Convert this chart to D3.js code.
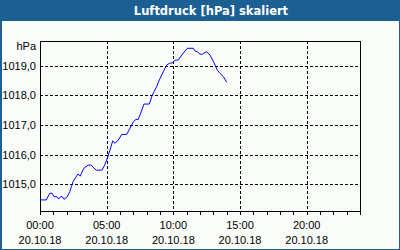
<!DOCTYPE html>
<html>
<head>
<meta charset="utf-8">
<script src="https://cdn.jsdelivr.net/npm/d3@7"></script>
<style>
  body { margin: 0; padding: 0; background: #fff; }
  svg { display: block; }
</style>
</head>
<body>
<div id="chart"></div>
<script>
const width = 400;
const height = 250;

const title = "Luftdruck [hPa] skaliert";
const unitLabel = "hPa";

// hours since 20.10.18 00:00
const hours = [0, 0.47, 0.73, 0.9, 1.05, 1.28, 1.4, 1.55, 1.67, 1.8, 2.05, 2.23, 2.35, 2.48, 2.72, 2.85,
  3.02, 3.28, 3.6, 3.85, 3.98, 4.22, 4.65, 4.85, 5.05, 5.25, 5.45, 5.63, 5.87, 6.13, 6.5, 6.75,
  7.0, 7.2, 7.37, 7.55, 7.8, 8.2, 8.38, 8.55, 8.75, 8.95, 9.25, 9.5, 9.7, 9.95, 10.13, 10.37,
  10.63, 10.88, 11.05, 11.5, 11.63, 11.8, 12.0, 12.17, 12.38, 12.5, 12.75, 12.95, 13.13, 13.3,
  13.5, 13.75, 14.0];
const pressure = [1014.46, 1014.46, 1014.68, 1014.69, 1014.57, 1014.57, 1014.49, 1014.57, 1014.57, 1014.48,
  1014.57, 1014.74, 1014.91, 1015.08, 1015.25, 1015.34, 1015.27, 1015.53, 1015.64, 1015.64, 1015.57,
  1015.47, 1015.47, 1015.64, 1015.87, 1016.15, 1016.46, 1016.38, 1016.49, 1016.68, 1016.68, 1016.89,
  1017.11, 1017.19, 1017.19, 1017.40, 1017.71, 1017.71, 1017.96, 1018.13, 1018.30, 1018.53, 1018.81,
  1019.03, 1019.09, 1019.11, 1019.20, 1019.20, 1019.37, 1019.51, 1019.60, 1019.60, 1019.51, 1019.48,
  1019.40, 1019.40, 1019.46, 1019.48, 1019.37, 1019.20, 1019.03, 1018.86, 1018.75, 1018.64, 1018.45];

const yTicks = [1015, 1016, 1017, 1018, 1019];
const xTicks = [0, 5, 10, 15, 20];
const xTimeLabels = ["00:00", "05:00", "10:00", "15:00", "20:00"];
const dateLabel = "20.10.18";

const data = hours.map((h, i) => ({ h, v: pressure[i] }));

const plot = { left: 40, right: 360, top: 41, bottom: 211 };

const x = d3.scaleLinear().domain([0, 24]).range([plot.left, plot.right]);
const y = d3.scaleLinear().domain([1014.085, 1019.847]).range([plot.bottom, plot.top]);

const svg = d3.select("#chart").append("svg")
  .attr("width", width)
  .attr("height", height);

// frame + title bar
svg.append("rect")
  .attr("width", width).attr("height", height)
  .attr("fill", "#1c5f93");
svg.append("rect")
  .attr("x", 2).attr("y", 21)
  .attr("width", width - 3).attr("height", height - 22)
  .attr("fill", "#fafcfa");

svg.append("text")
  .attr("x", 211).attr("y", 15)
  .attr("text-anchor", "middle")
  .attr("font-family", "DejaVu Sans, sans-serif")
  .attr("font-weight", "bold")
  .attr("font-size", "11.5px")
  .attr("fill", "#fff")
  .text(title);

// grid
const grid = svg.append("g")
  .attr("stroke", "#000")
  .attr("stroke-dasharray", "3,2")
  .attr("shape-rendering", "crispEdges");

grid.selectAll("line.h")
  .data(yTicks)
  .join("line")
  .attr("class", "h")
  .attr("x1", plot.left).attr("x2", plot.right)
  .attr("y1", d => Math.round(y(d)) + 0.5)
  .attr("y2", d => Math.round(y(d)) + 0.5);

grid.selectAll("line.v")
  .data(xTicks.slice(1))
  .join("line")
  .attr("class", "v")
  .attr("x1", d => Math.round(x(d)) + 0.5)
  .attr("x2", d => Math.round(x(d)) + 0.5)
  .attr("y1", plot.top).attr("y2", plot.bottom);

// plot frame
const frame = svg.append("g")
  .attr("stroke", "#000")
  .attr("shape-rendering", "crispEdges");
frame.append("line").attr("x1", plot.left).attr("x2", plot.right + 1).attr("y1", plot.top + 0.5).attr("y2", plot.top + 0.5);
frame.append("line").attr("x1", plot.right + 0.5).attr("x2", plot.right + 0.5).attr("y1", plot.top).attr("y2", plot.bottom);
frame.append("line").attr("x1", plot.left + 0.5).attr("x2", plot.left + 0.5).attr("y1", plot.top).attr("y2", plot.bottom + 1);
frame.append("line").attr("x1", plot.left).attr("x2", plot.right + 1).attr("y1", plot.bottom + 0.5).attr("y2", plot.bottom + 0.5);

// hourly ticks
frame.selectAll("line.tick")
  .data(d3.range(0, 25))
  .join("line")
  .attr("class", "tick")
  .attr("x1", d => Math.round(x(d)) + 0.5)
  .attr("x2", d => Math.round(x(d)) + 0.5)
  .attr("y1", plot.bottom)
  .attr("y2", plot.bottom + 4);

// labels
const labelFont = "Liberation Sans, Arial, sans-serif";

svg.selectAll("text.ylab")
  .data(yTicks)
  .join("text")
  .attr("class", "ylab")
  .attr("x", 36)
  .attr("y", d => y(d) + 4)
  .attr("text-anchor", "end")
  .attr("font-family", labelFont)
  .attr("font-size", "11px")
  .attr("fill", "#000")
  .text(d => d.toFixed(1).replace(".", ","));

svg.append("text")
  .attr("x", 36).attr("y", 50)
  .attr("text-anchor", "end")
  .attr("font-family", labelFont)
  .attr("font-size", "11px")
  .text(unitLabel);

const xl = svg.selectAll("g.xlab")
  .data(xTicks)
  .join("g")
  .attr("class", "xlab")
  .attr("transform", d => `translate(${x(d)},0)`);
xl.append("text")
  .attr("y", 229)
  .attr("text-anchor", "middle")
  .attr("font-family", labelFont)
  .attr("font-size", "11px")
  .text((d, i) => xTimeLabels[i]);
xl.append("text")
  .attr("y", 244)
  .attr("text-anchor", "middle")
  .attr("font-family", labelFont)
  .attr("font-size", "11px")
  .text(dateLabel);

// line
const line = d3.line()
  .x(d => x(d.h))
  .y(d => y(d.v));

svg.append("path")
  .datum(data)
  .attr("fill", "none")
  .attr("stroke", "#0000ff")
  .attr("stroke-width", 1)
  .attr("d", line);
</script>
</body>
</html>
